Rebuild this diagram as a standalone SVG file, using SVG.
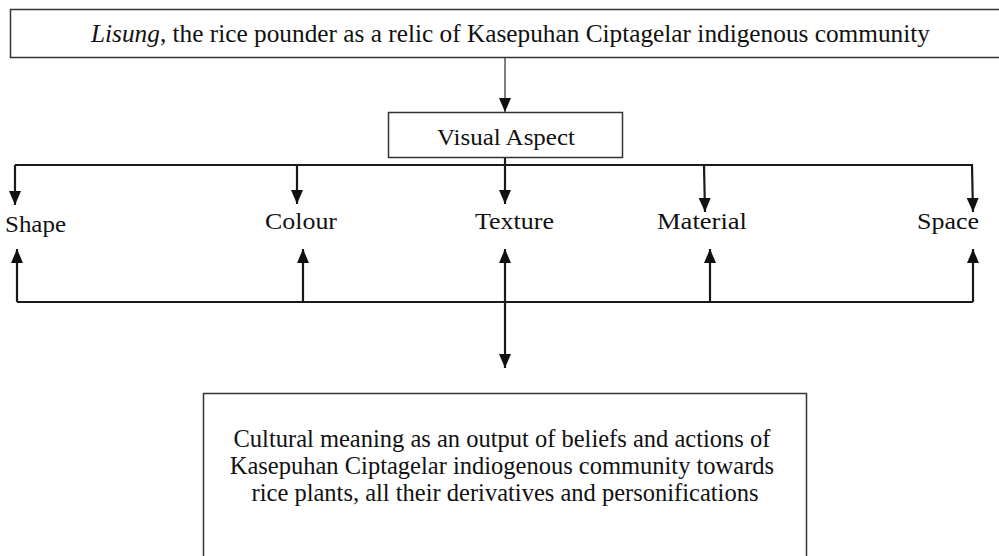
<svg xmlns="http://www.w3.org/2000/svg" width="999" height="556" viewBox="0 0 999 556">
<style>
.t{font-family:"Liberation Serif","Times New Roman",serif;fill:#111;}
.box{fill:#fff;stroke:#333;stroke-width:1.5;}
.ln{fill:none;stroke:#1a1a1a;stroke-width:2.2;}
</style>
<defs>
<marker id="ah" viewBox="0 0 14 12" refX="14" refY="6" markerWidth="14" markerHeight="12" markerUnits="userSpaceOnUse" orient="auto-start-reverse">
<path d="M0,0 L14,6 L0,12 z" fill="#111"/>
</marker>
</defs>
<rect width="999" height="556" fill="#fff"/>
<g id="top">
<rect class="box" x="10.5" y="9.5" width="995" height="48"/>
<text class="t" x="91" y="42" font-size="25" textLength="839" lengthAdjust="spacingAndGlyphs"><tspan font-style="italic">Lisung</tspan>, the rice pounder as a relic of Kasepuhan Ciptagelar indigenous community</text>
</g>
<g id="visual">
<rect class="box" x="388.5" y="112.5" width="234" height="45"/>
<text class="t" x="506" y="145" font-size="24" text-anchor="middle" textLength="138" lengthAdjust="spacingAndGlyphs">Visual Aspect</text>
</g>
<g id="shape"><text class="t" x="5" y="232" font-size="24" textLength="61" lengthAdjust="spacingAndGlyphs">Shape</text></g>
<g id="colour"><text class="t" x="265" y="229" font-size="24" textLength="72" lengthAdjust="spacingAndGlyphs">Colour</text></g>
<g id="texture"><text class="t" x="475" y="229" font-size="24" textLength="79" lengthAdjust="spacingAndGlyphs">Texture</text></g>
<g id="material"><text class="t" x="657" y="229" font-size="24" textLength="90" lengthAdjust="spacingAndGlyphs">Material</text></g>
<g id="space"><text class="t" x="917" y="229" font-size="24" textLength="62" lengthAdjust="spacingAndGlyphs">Space</text></g>
<g id="meaning">
<rect class="box" x="203.5" y="393.5" width="603" height="180"/>
<text class="t" font-size="24.5" text-anchor="middle">
<tspan x="505" y="447">Cultural meaning as an output of beliefs and actions of</tspan>
<tspan x="505" y="474">Kasepuhan Ciptagelar indiogenous community towards</tspan>
<tspan x="505" y="501">rice plants, all their derivatives and personifications</tspan>
</text>
</g>
<g id="connectors">
<line x1="505" y1="58" x2="505" y2="112" stroke="#555" stroke-width="1.5" marker-end="url(#ah)"/>
<path class="ln" d="M15,165 H973"/>
<line class="ln" x1="15" y1="165" x2="15" y2="205" marker-end="url(#ah)"/>
<line class="ln" x1="297" y1="165" x2="297" y2="204" marker-end="url(#ah)"/>
<line class="ln" x1="505" y1="158" x2="505" y2="204" marker-end="url(#ah)"/>
<line class="ln" x1="704" y1="165" x2="705" y2="212" marker-end="url(#ah)"/>
<line class="ln" x1="972" y1="165" x2="973" y2="212" marker-end="url(#ah)"/>
<path class="ln" d="M17,302 H973"/>
<line class="ln" x1="17" y1="302" x2="17" y2="249" marker-end="url(#ah)"/>
<line class="ln" x1="303" y1="302" x2="303" y2="249" marker-end="url(#ah)"/>
<line class="ln" x1="505" y1="249" x2="505" y2="368" marker-start="url(#ah)" marker-end="url(#ah)"/>
<line class="ln" x1="710" y1="302" x2="710" y2="249" marker-end="url(#ah)"/>
<line class="ln" x1="973" y1="302" x2="973" y2="249" marker-end="url(#ah)"/>
</g>
</svg>
